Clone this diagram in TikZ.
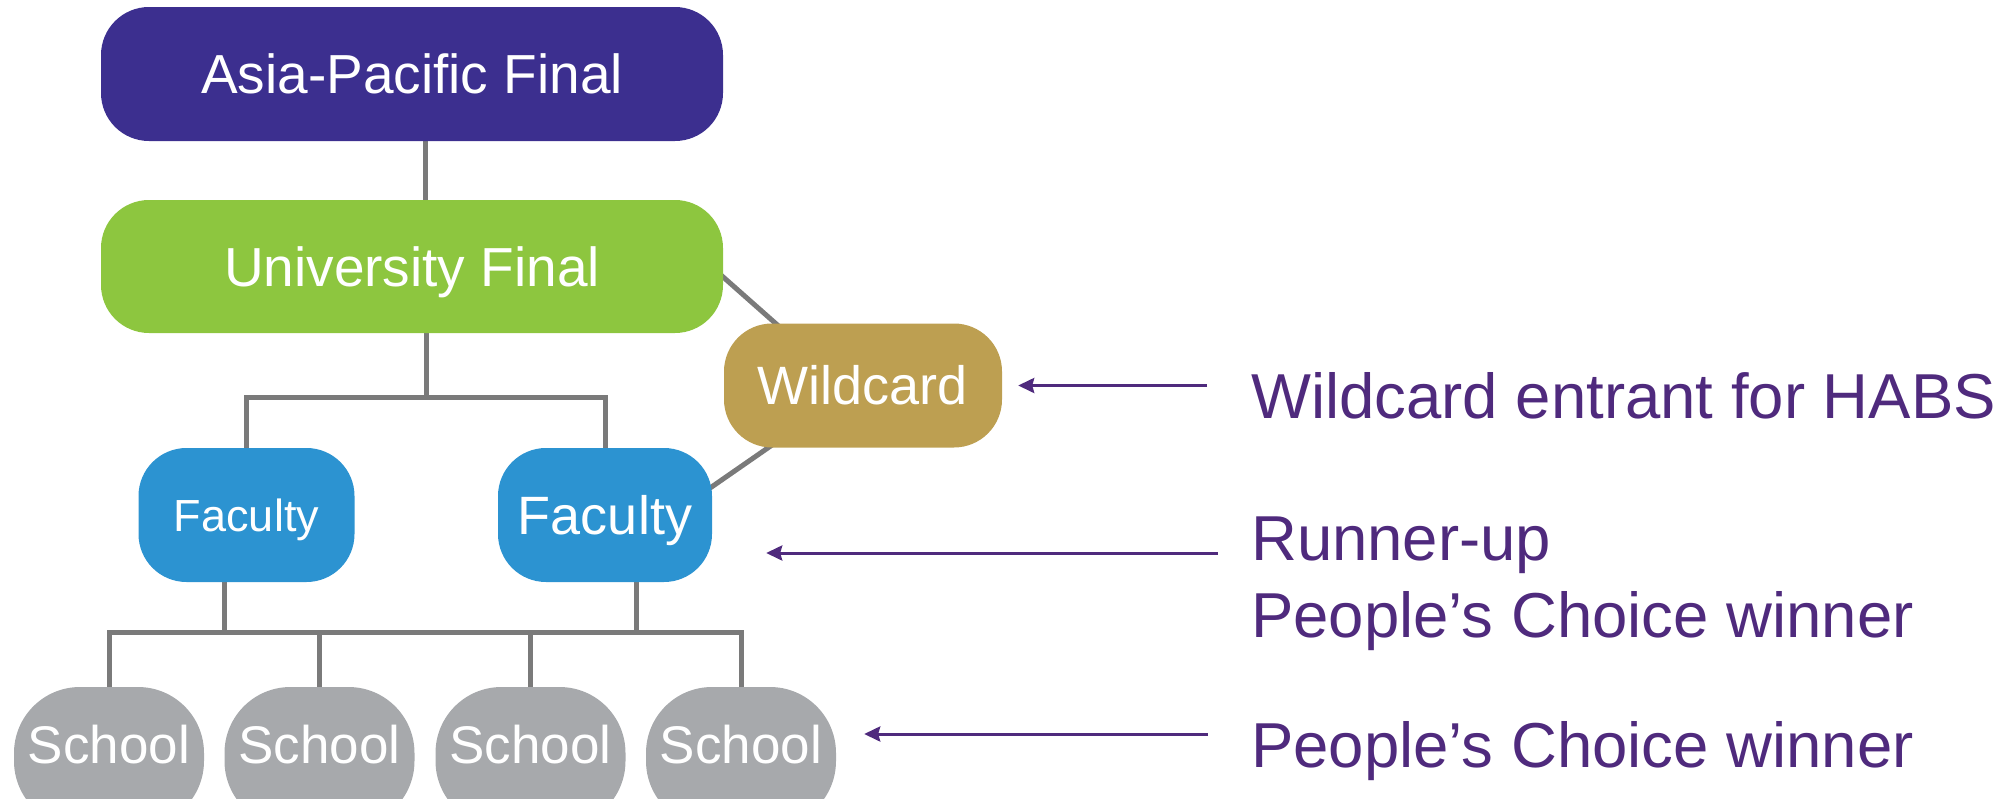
\documentclass[tikz,border=0pt]{standalone}
\usepackage{fontspec}
\setmainfont{Liberation Sans}
\usetikzlibrary{calc,arrows.meta,backgrounds}

\definecolor{apfill}{HTML}{3C2F8F}
\definecolor{unifill}{HTML}{8DC63F}
\definecolor{wildfill}{HTML}{BD9F51}
\definecolor{facfill}{HTML}{2C93D1}
\definecolor{schfill}{HTML}{A7A9AC}
\definecolor{linkgray}{HTML}{7A7A7A}
\definecolor{notepurple}{HTML}{4F2A7D}

\begin{document}
\begin{tikzpicture}[x=1pt,y=-1pt,
  stage/.style={rectangle, rounded corners=48pt, inner sep=0pt, text=white, text depth=0pt},
  txt/.style 2 args={font=\fontsize{#1}{#1}\selectfont, text height=#2pt},
  school/.style={stage, fill=schfill, rounded corners=66pt, minimum width=190pt, minimum height=140pt, txt={53}{38}, text depth=26pt},
  link/.style={draw=linkgray, line width=5pt},
  note/.style={anchor=base west, inner sep=0pt, text=notepurple, font=\fontsize{63.5}{76}\selectfont},
  pointer/.style={draw=notepurple, line width=3pt, -{Stealth[length=16pt,width=15pt,inset=2pt]}}
]
\useasboundingbox (0,0) rectangle (2003,798);
\clip (0,0) rectangle (2003,798);

% competition stages
\node[stage, fill=apfill, minimum width=622pt, minimum height=134pt, txt={55}{39.4}] (apf) at (412,74) {Asia-Pacific Final};
\node[stage, fill=unifill, minimum width=622pt, minimum height=133pt, txt={55}{39.4}] (uni) at (412,266.5) {University Final};
\node[stage, fill=wildfill, minimum width=278pt, minimum height=124pt, txt={54}{38.7}] (wild) at (863,385.5) {Wildcard};
\node[stage, fill=facfill, minimum width=216pt, minimum height=134pt, txt={45}{32.2}] (facA) at (246.5,515) {Faculty};
\node[stage, fill=facfill, minimum width=214pt, minimum height=134pt, txt={54}{38.7}] (facB) at (605,515) {Faculty};
\node[school] (schA) at (109,757) {School};
\node[school] (schB) at (319.5,757) {School};
\node[school] (schC) at (530.5,757) {School};
\node[school] (schD) at (741,757) {School};

% tree connectors, drawn behind the boxes
\begin{scope}[on background layer]
  \coordinate (trunk) at (425.5,0);
  \draw[link] (apf.south -| trunk) -- (uni.north -| trunk);
  \coordinate (fork) at (426,397);
  \draw[link] (uni.south -| fork) -- (fork);
  \draw[link] (facA.north) |- (fork) -| (facB.north);
  \draw[link] ($(uni.east)+(-23,-9.8)$) -- ($(wild.north west)+(76,21.5)$);
  \draw[link] ($(wild.south west)+(66,-15)$) -- ($(facB.north east)+(-22,54)$);
  \coordinate (bus) at (0,632);
  \coordinate (dropA) at (224,0);
  \coordinate (dropB) at (636,0);
  \draw[link] (facA.south -| dropA) -- (bus -| dropA);
  \draw[link] (facB.south -| dropB) -- (bus -| dropB);
  \draw[link] (schA.north) -- (schA.north |- bus) -- (schD.north |- bus) -- (schD.north);
  \draw[link] (schB.north) -- (schB.north |- bus);
  \draw[link] (schC.north) -- (schC.north |- bus);
\end{scope}

% notes
\node[note] (noteWild) at (1251,418) {Wildcard entrant for HABS};
\node[note] (noteRun) at (1251,560) {Runner-up};
\node[note] (notePCa) at (1251,637) {People’s Choice winner};
\node[note] (notePCb) at (1251,767) {People’s Choice winner};

% pointers from notes to stages
\draw[pointer] ($(noteWild.west |- wild.east)+(-44,0)$) -- ($(wild.east)+(16,0)$);
\coordinate (runTail) at ($(noteRun.base west)+(-33,-7)$);
\draw[pointer] (runTail) -- ($(facB.east |- runTail)+(54,0)$);
\draw[pointer] ($(schD.east -| notePCb.west)+(-43,-23)$) -- ($(schD.east)+(28,-23)$);
\end{tikzpicture}
\end{document}
